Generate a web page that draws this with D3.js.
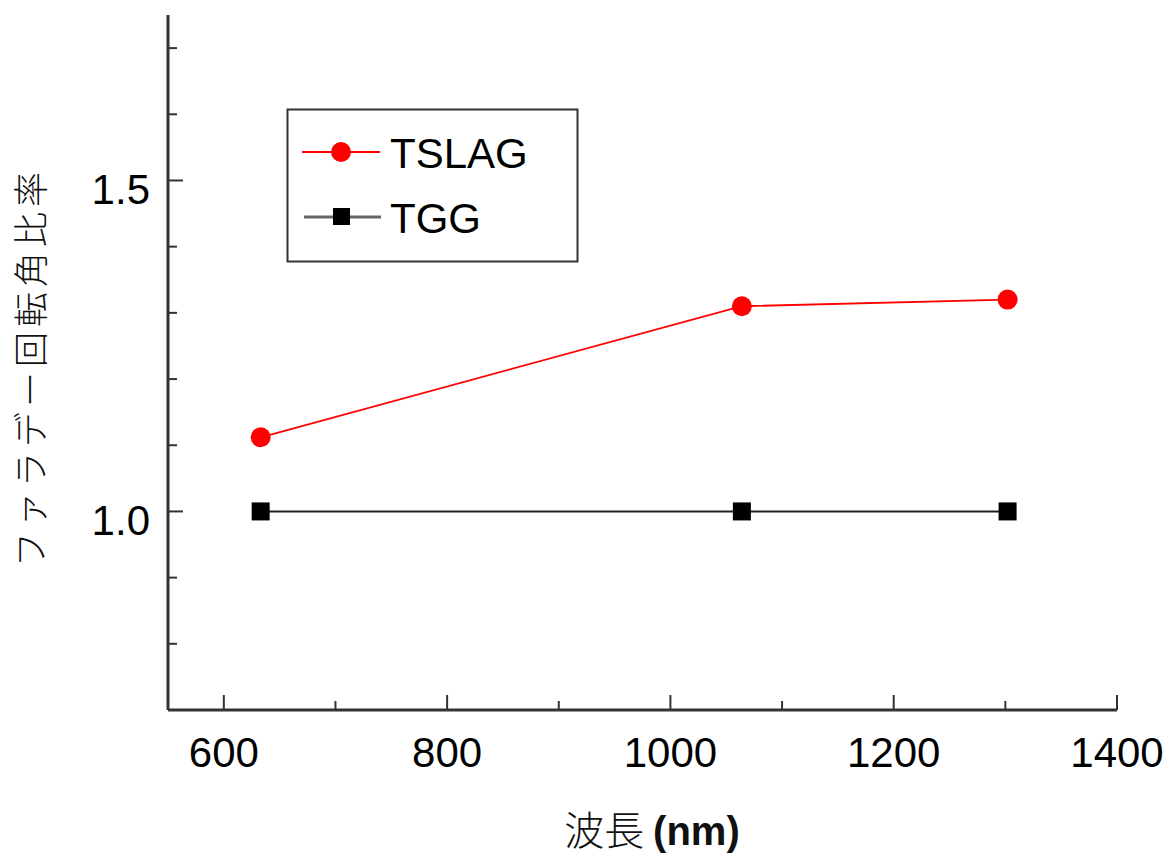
<!DOCTYPE html>
<html>
<head>
<meta charset="utf-8">
<script src="https://cdn.jsdelivr.net/npm/d3@7"></script>
<style>
  body { margin: 0; background: #fff; }
  svg text { font-family: "Liberation Sans", Arial, sans-serif; }
</style>
</head>
<body>
<div id="container"></div>
<script>
// data
var wavelengths = [633, 1064, 1302];
var tslag = [1.112, 1.310, 1.320];
var tgg = [1.0, 1.0, 1.0];
var xTicks = [600, 800, 1000, 1200, 1400];
var xMinor = [700, 900, 1100, 1300];
var yTicks = [1.0, 1.5];
var yMinor = [0.8, 0.9, 1.1, 1.2, 1.3, 1.4, 1.6, 1.7];
var seriesNames = ["TSLAG", "TGG"];

var W = 1175, H = 858;
var svg = d3.select("div#container").append("svg").attr("width", W).attr("height", H);

var xScale = d3.scaleLinear().domain([550, 1400]).range([168, 1117]);
var yScale = d3.scaleLinear().domain([0.7, 1.75]).range([710, 15]);

var axisColor = "#333";

// y axis (inward ticks)
var gy = svg.append("g").attr("transform", "translate(168,0)");
gy.append("line").attr("y1", yScale(0.7)).attr("y2", yScale(1.75))
  .attr("stroke", axisColor).attr("stroke-width", 3);
gy.selectAll("line.major").data(yTicks).enter().append("line")
  .attr("x1", 0).attr("x2", 15)
  .attr("y1", function(d) { return yScale(d); }).attr("y2", function(d) { return yScale(d); })
  .attr("stroke", axisColor).attr("stroke-width", 2);
gy.selectAll("line.minor").data(yMinor).enter().append("line")
  .attr("x1", 0).attr("x2", 9)
  .attr("y1", function(d) { return yScale(d); }).attr("y2", function(d) { return yScale(d); })
  .attr("stroke", axisColor).attr("stroke-width", 2);
gy.selectAll("text").data(yTicks).enter().append("text")
  .attr("x", -18).attr("y", function(d) { return yScale(d) + 24; })
  .attr("text-anchor", "end").style("font-size", "42px").attr("fill", "#000")
  .text(function(d) { return d3.format(".1f")(d); });

// x axis (inward ticks)
var gx = svg.append("g").attr("transform", "translate(0,710)");
gx.append("line").attr("x1", xScale(550)).attr("x2", xScale(1400))
  .attr("stroke", axisColor).attr("stroke-width", 3);
gx.selectAll("line.major").data(xTicks).enter().append("line")
  .attr("y1", 0).attr("y2", -15)
  .attr("x1", function(d) { return xScale(d); }).attr("x2", function(d) { return xScale(d); })
  .attr("stroke", axisColor).attr("stroke-width", 2);
gx.selectAll("line.minor").data(xMinor).enter().append("line")
  .attr("y1", 0).attr("y2", -9)
  .attr("x1", function(d) { return xScale(d); }).attr("x2", function(d) { return xScale(d); })
  .attr("stroke", axisColor).attr("stroke-width", 2);
gx.selectAll("text").data(xTicks).enter().append("text")
  .attr("x", function(d) { return xScale(d); }).attr("y", 57)
  .attr("text-anchor", "middle").style("font-size", "42px").attr("fill", "#000")
  .text(function(d) { return d; });

// axis titles
svg.append("text")
  .attr("transform", "translate(44,367) rotate(-90)")
  .attr("text-anchor", "middle")
  .style("font-family", '"Noto Sans CJK JP", sans-serif')
  .style("font-weight", 300)
  .style("font-size", "35px")
  .style("letter-spacing", "5px")
  .attr("fill", "#111")
  .text("ファラデー回転角比率");

var xt = svg.append("text")
  .attr("x", 652).attr("y", 845)
  .attr("text-anchor", "middle")
  .style("font-size", "40px").attr("fill", "#111");
xt.append("tspan").style("font-family", '"Noto Sans CJK JP", sans-serif').style("font-weight", 300).text("波長 ");
xt.append("tspan").style("font-weight", "bold").text("(nm)");

// series
var pts = function(vals) { return wavelengths.map(function(w, i) { return [w, vals[i]]; }); };
var line = d3.line()
  .x(function(d) { return xScale(d[0]); })
  .y(function(d) { return yScale(d[1]); });

svg.append("path").datum(pts(tgg)).attr("d", line)
  .attr("fill", "none").attr("stroke", "#222").attr("stroke-width", 2);
svg.selectAll("rect.tgg").data(pts(tgg)).enter().append("rect")
  .attr("x", function(d) { return xScale(d[0]) - 9; })
  .attr("y", function(d) { return yScale(d[1]) - 9; })
  .attr("width", 18).attr("height", 18).attr("fill", "#000");

svg.append("path").datum(pts(tslag)).attr("d", line)
  .attr("fill", "none").attr("stroke", "#ff0000").attr("stroke-width", 1.8);
svg.selectAll("circle.tslag").data(pts(tslag)).enter().append("circle")
  .attr("cx", function(d) { return xScale(d[0]); })
  .attr("cy", function(d) { return yScale(d[1]); })
  .attr("r", 10).attr("fill", "#ff0000");

// legend
var lg = svg.append("g");
lg.append("rect").attr("x", 287.5).attr("y", 109.5).attr("width", 290).attr("height", 152)
  .attr("fill", "#fff").attr("stroke", "#333").attr("stroke-width", 2);
lg.append("line").attr("x1", 302).attr("x2", 380).attr("y1", 152).attr("y2", 152)
  .attr("stroke", "#ff0000").attr("stroke-width", 1.8);
lg.append("circle").attr("cx", 341).attr("cy", 152).attr("r", 10).attr("fill", "#ff0000");
lg.append("line").attr("x1", 304).attr("x2", 381).attr("y1", 217).attr("y2", 217)
  .attr("stroke", "#666").attr("stroke-width", 3);
lg.append("rect").attr("x", 333).attr("y", 208).attr("width", 17).attr("height", 17).attr("fill", "#000");
lg.selectAll("text").data(seriesNames).enter().append("text")
  .attr("x", 390).attr("y", function(d, i) { return 168 + i * 65; })
  .style("font-size", "42px").attr("fill", "#000")
  .text(function(d) { return d; });
</script>
</body>
</html>
